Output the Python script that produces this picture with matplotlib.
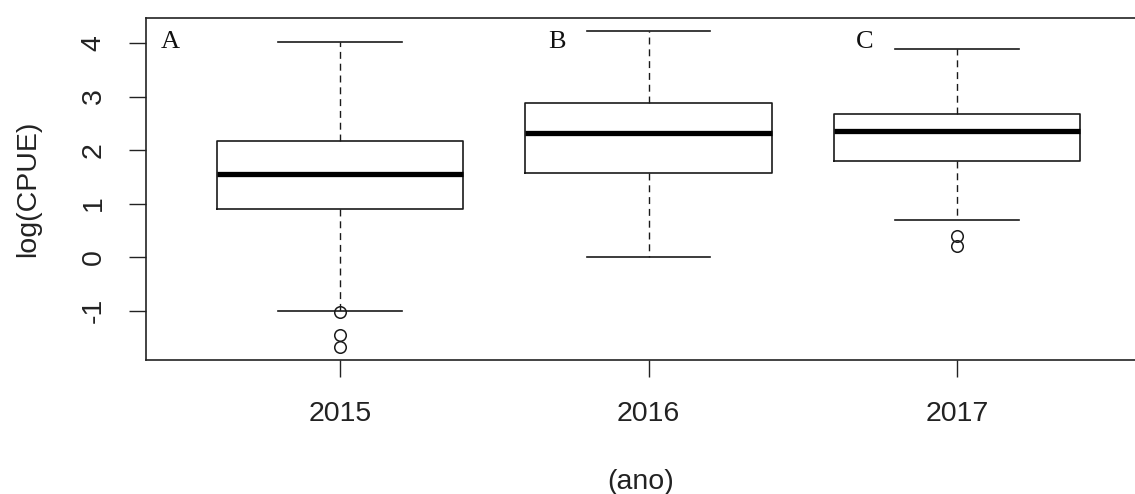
import matplotlib
matplotlib.use("Agg")
import matplotlib.pyplot as plt

# Data
years = ["2015", "2016", "2017"]
whisker_low = [-1.00, 0.00, 0.69]
q1 = [0.90, 1.57, 1.79]
median = [1.55, 2.31, 2.35]
q3 = [2.17, 2.87, 2.67]
whisker_high = [4.02, 4.22, 3.88]
outliers = [[-1.03, -1.46, -1.68], [], [0.40, 0.20]]
letters = ["A", "B", "C"]
yticks = [-1, 0, 1, 2, 3, 4]

W, H = 1135, 494
fig = plt.figure(figsize=(W / 100, H / 100), dpi=100)
ax = fig.add_axes([146 / W, 1 - 360 / H, 1 - 146 / W, (360 - 18) / H])

stats = []
for i in range(len(years)):
    stats.append(dict(med=median[i], q1=q1[i], q3=q3[i],
                      whislo=whisker_low[i], whishi=whisker_high[i],
                      fliers=outliers[i], label=years[i]))

lc = "#1a1a1a"
positions = list(range(1, len(years) + 1))
ax.bxp(stats, positions=positions, widths=0.8, showfliers=True,
       boxprops=dict(color=lc, linewidth=1.2),
       medianprops=dict(color="black", linewidth=3.8, solid_capstyle="butt"),
       whiskerprops=dict(color=lc, linewidth=1.0, linestyle=(0, (5, 3.5))),
       capprops=dict(color=lc, linewidth=1.2),
       capwidths=0.4,
       flierprops=dict(marker="o", markerfacecolor="none", markeredgecolor=lc,
                       markersize=8.3, markeredgewidth=1.1))

ax.set_xlim(1 - 194 / 308.5, 1 + (1135 - 340) / 308.5)
ax.set_ylim(-(360 - 257) / 53.6, 4 + (43 - 18) / 53.6)

for s in ["left", "top", "bottom"]:
    ax.spines[s].set_color("#222222")
    ax.spines[s].set_linewidth(1.2)
ax.spines["right"].set_visible(False)

ax.set_yticks(yticks)
ax.set_yticklabels([str(t) for t in yticks], rotation=90, va="center")
ax.set_xticks(positions)
ax.set_xticklabels(years)

ax.tick_params(axis="both", direction="out", length=12.5, width=1.0,
               color="#222222", labelsize=20.5, labelcolor="#222222",
               labelfontfamily="Liberation Sans")
ax.tick_params(axis="y", pad=16)
ax.tick_params(axis="x", pad=17)

ax.set_xlabel("(ano)", fontsize=20.5, family="Liberation Sans", color="#222222", labelpad=30)
ax.set_ylabel("log(CPUE)", fontsize=20.5, family="Liberation Sans", color="#222222", labelpad=28)

letter_x = [0.449, 1.703, 2.70]
for lx, lt in zip(letter_x, letters):
    ax.text(lx, 4.01, lt, fontsize=19, family="Liberation Serif",
            ha="center", va="center", color="#111111")

fig.savefig("out.png", dpi=100)
